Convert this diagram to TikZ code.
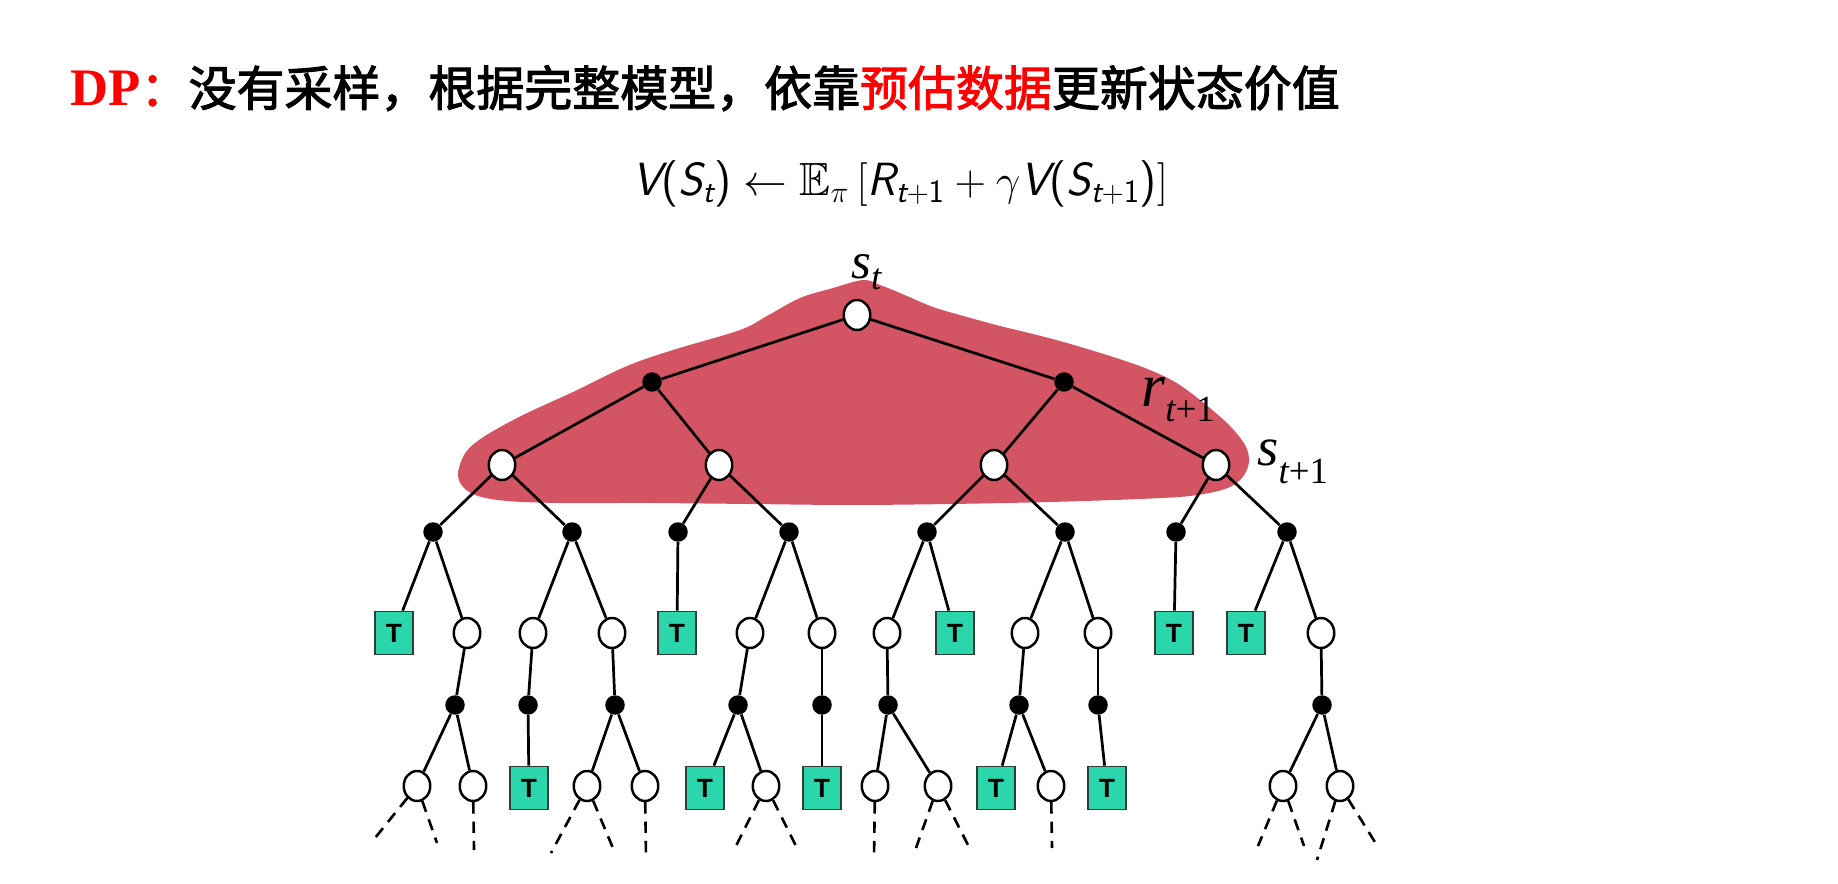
\documentclass[tikz,border=0pt]{standalone}
\usepackage{amsmath,amssymb}
\usepackage{fontspec}
\newfontfamily\cjk{Noto Sans CJK SC}[FakeBold=2.2]
\newfontfamily\timesf{Liberation Serif}
\newfontfamily\arialf{Liberation Sans}
\usetikzlibrary{shapes.geometric}
\pgfdeclarelayer{blob}
\pgfdeclarelayer{links}
\pgfsetlayers{blob,links,main}
\definecolor{blobred}{RGB}{211,84,99}
\definecolor{tgreen}{RGB}{44,214,172}
\definecolor{tborder}{RGB}{50,60,55}
\newcommand\si[1]{\text{\normalfont\sffamily\slshape #1}}
\newcommand\su[1]{\text{\normalfont\sffamily #1}}
% #1 main size, #2 drop, #3 main letter, #4 subscript
\newcommand\lbl[4]{{\fontsize{#1}{#1}\selectfont\timesf\itshape #3}\raisebox{-#2}{\fontsize{21}{21}\selectfont\timesf #4}}
\tikzset{
  stnode/.style={ellipse, draw, line width=1.4pt, fill=white, minimum width=0.53cm, minimum height=0.6cm, inner sep=0pt},
  acnode/.style={circle, fill=black, minimum size=0.39cm, inner sep=0pt},
  tnode/.style={rectangle, draw=tborder, line width=1pt, fill=tgreen, minimum width=0.75cm, minimum height=0.86cm, inner sep=0pt, font=\arialf\bfseries\fontsize{15}{15}\selectfont},
  link/.style={line width=1.55pt},
  dlink/.style={line width=1.5pt, dash pattern=on 6.5pt off 4.5pt},
  lab/.style={anchor=base west, inner sep=0pt}
}
\begin{document}
\begin{tikzpicture}[x=0.02cm, y=-0.02cm]
\useasboundingbox (0,0) rectangle (1838,884);
% title
\node[anchor=base west, inner sep=0pt] (title) at (70,106) {\fontsize{27.3}{30}\selectfont\textcolor{red}{\fontsize{30}{30}\selectfont\timesf\bfseries DP}\textcolor{red}{\cjk ：}\cjk 没有采样，根据完整模型，依靠\textcolor{red}{预估数据}更新状态价值};
% formula
\node[anchor=base, inner sep=0pt] (formula) at (900,196) {\fontsize{26.5}{28}\selectfont $\si{V}\su{(}\si{S}_{\si{t}}\su{)} \leftarrow \mathbb{E}_{\pi}\,[\si{R}_{\si{t}+\su{1}} + \gamma \si{V}\su{(}\si{S}_{\si{t}+\su{1}}\su{)}]$};
% tree nodes
\node[stnode] (r) at (857,315) {};
\node[acnode] (a1) at (652,382) {};
\node[acnode] (a2) at (1064,382) {};
\node[stnode] (b1) at (502,465) {};
\node[stnode] (b2) at (719,465) {};
\node[stnode] (b3) at (994,465) {};
\node[stnode] (b4) at (1216,465) {};
\foreach \n/\x in {c1/433,c2/572,c3/678,c4/789,c5/927,c6/1065,c7/1176,c8/1287}
  \node[acnode] (\n) at (\x,532) {};
% level 4
\node[tnode] (d1) at (394,633) {T};
\node[stnode] (d2) at (467,633) {};
\node[stnode] (d3) at (533,633) {};
\node[stnode] (d4) at (612,633) {};
\node[tnode] (d5) at (677,633) {T};
\node[stnode] (d6) at (750,633) {};
\node[stnode] (d7) at (822,633) {};
\node[stnode] (d8) at (887,633) {};
\node[tnode] (d9) at (955,633) {T};
\node[stnode] (d10) at (1025,633) {};
\node[stnode] (d11) at (1098,633) {};
\node[tnode] (d12) at (1174,633) {T};
\node[tnode] (d13) at (1246,633) {T};
\node[stnode] (d14) at (1321,633) {};
% level 5
\foreach \n/\x in {e1/455,e2/528,e3/615,e4/738,e5/822,e6/888,e7/1019,e8/1098,e9/1322}
  \node[acnode] (\n) at (\x,705) {};
% level 6
\node[stnode] (f1) at (417,786) {};
\node[stnode] (f2) at (473,786) {};
\node[tnode] (f3) at (529,788) {T};
\node[stnode] (f4) at (587,786) {};
\node[stnode] (f5) at (645,786) {};
\node[tnode] (f6) at (705,788) {T};
\node[stnode] (f7) at (766,786) {};
\node[tnode] (f8) at (822,788) {T};
\node[stnode] (f9) at (875,786) {};
\node[stnode] (f10) at (938,786) {};
\node[tnode] (f11) at (996,788) {T};
\node[stnode] (f12) at (1051,786) {};
\node[tnode] (f13) at (1107,788) {T};
\node[stnode] (f14) at (1283,786) {};
\node[stnode] (f15) at (1340,786) {};
% dashed ends
\coordinate (g1) at (375,838);  \coordinate (g2) at (437,843);
\coordinate (g3) at (474,850);
\coordinate (g4) at (551,853);  \coordinate (g5) at (615,853);
\coordinate (g6) at (646,857);
\coordinate (g7) at (733,852);  \coordinate (g8) at (797,848);
\coordinate (g9) at (874,858);
\coordinate (g10) at (916,848); \coordinate (g11) at (969,847);
\coordinate (g12) at (1052,848);
\coordinate (g13) at (1258,846); \coordinate (g14) at (1304,846);
\coordinate (g15) at (1317,860); \coordinate (g16) at (1378,847);
% labels
\node[lab] (lst) at (851,279) {\lbl{29}{6pt}{s}{\itshape t}};
\node[lab] (lrt) at (1141,407) {\lbl{35}{8.5pt}{r}{{\itshape t}+1}};
\node[lab] (lst1) at (1257,466) {\lbl{31}{10pt}{s}{{\itshape t}+1}};
% edges
\begin{pgfonlayer}{links}
\foreach \u/\v in {r/a1,r/a2,a1/b1,a1/b2,a2/b3,a2/b4,b1/c1,b1/c2,b2/c3,b2/c4,b3/c5,b3/c6,b4/c7,b4/c8,
  c1/d1,c1/d2,c2/d3,c2/d4,c3/d5,c4/d6,c4/d7,c5/d8,c5/d9,c6/d10,c6/d11,c7/d12,c8/d13,c8/d14,
  d2/e1,d3/e2,d4/e3,d6/e4,d7/e5,d8/e6,d10/e7,d11/e8,d14/e9,
  e1/f1,e1/f2,e2/f3,e3/f4,e3/f5,e4/f6,e4/f7,e5/f8,e6/f9,e6/f10,e7/f11,e7/f12,e8/f13,e9/f14,e9/f15}
  \draw[link] (\u) -- (\v);
\foreach \u/\v in {f1/g1,f1/g2,f2/g3,f4/g4,f4/g5,f5/g6,f7/g7,f7/g8,f9/g9,f10/g10,f10/g11,f12/g12,f14/g13,f14/g14,f15/g15,f15/g16}
  \draw[dlink] (\u) -- (\v);
\end{pgfonlayer}
% highlight blob
\begin{pgfonlayer}{blob}
\fill[blobred] plot[smooth cycle, tension=0.55] coordinates {
 (458,473) (466,452) (485,436) (523,415) (573,392) (627,366) (673,350) (740,330) (767,316) (800,298) (833,288) (863,280) (880,285) (900,293) (933,307) (967,317) (1000,326) (1033,334) (1067,343) (1110,356) (1145,368) (1175,382) (1200,400) (1228,424) (1245,445) (1249,462) (1242,478) (1225,489) (1190,496) (1140,499) (1050,502) (950,504) (850,505) (750,504) (650,503) (560,503) (507,501) (478,496) (463,487)};
\end{pgfonlayer}
\end{tikzpicture}
\end{document}
